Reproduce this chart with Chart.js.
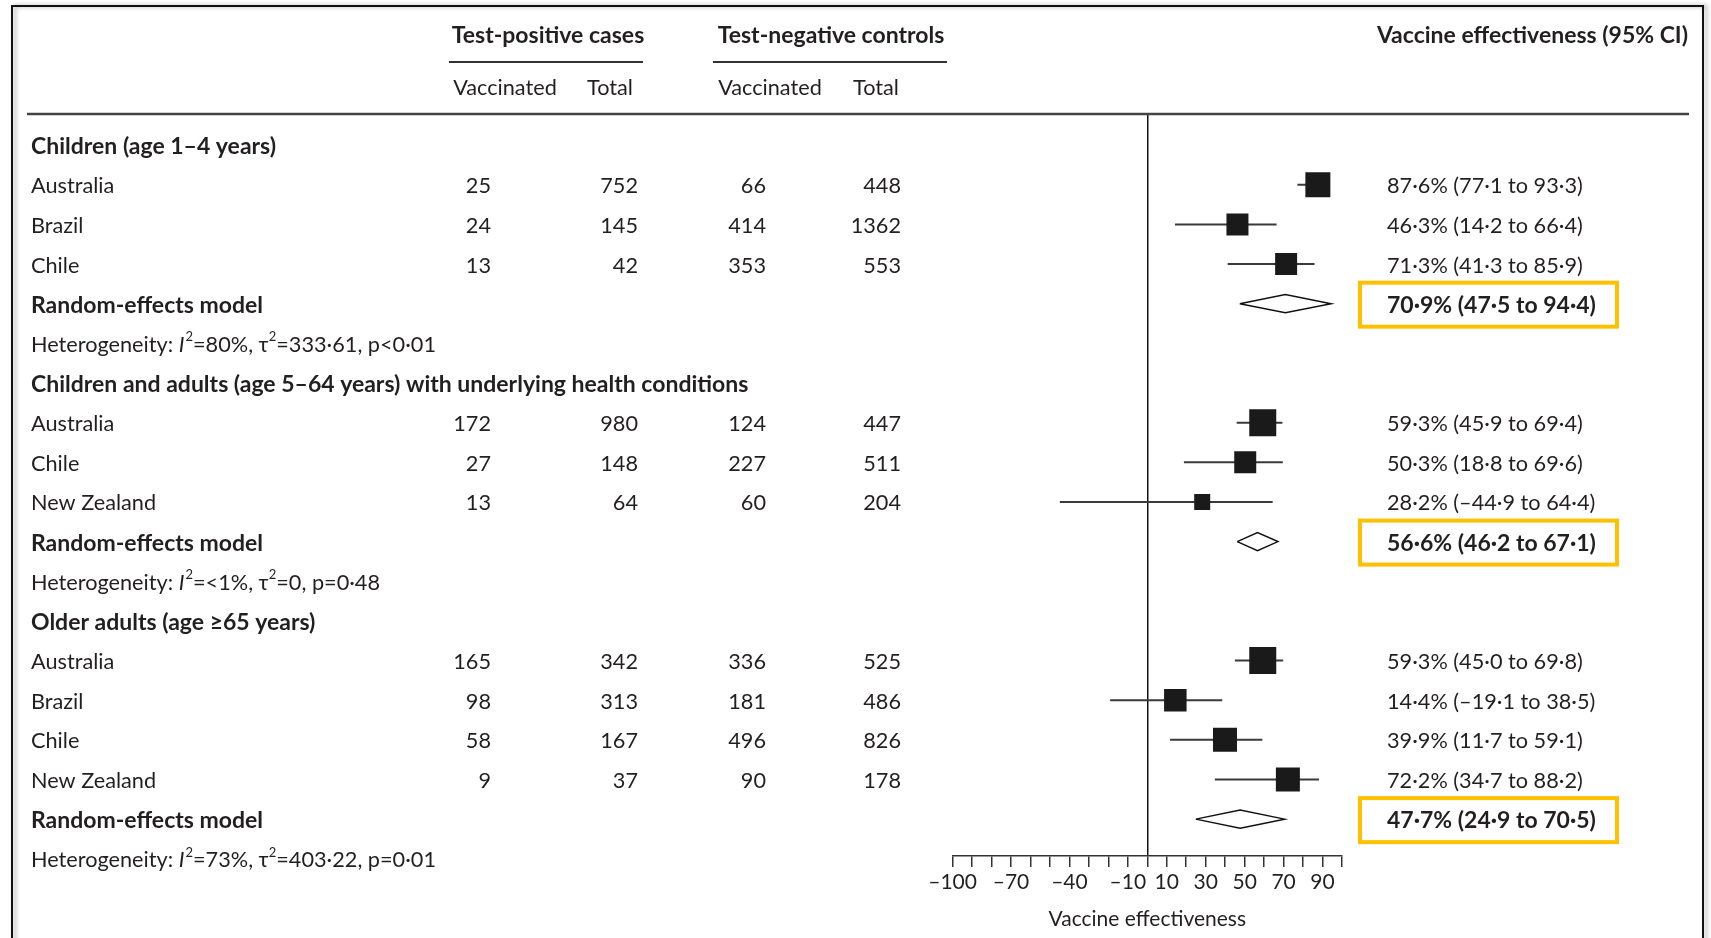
<!DOCTYPE html>
<html>
<head>
<meta charset="utf-8">
<title>Vaccine effectiveness forest plot</title>
<script src="https://cdn.jsdelivr.net/npm/chart.js@4.4.1/dist/chart.umd.min.js"></script>
<style>
  html, body { margin: 0; padding: 0; background: #fff; overflow: hidden; }
  #wrap { position: relative; width: 1711px; height: 938px; }
  canvas { display: block; }
</style>
</head>
<body>
<div id="wrap"><canvas id="forest" width="1711" height="938"></canvas></div>
<script>
// ---------------- data ----------------
const groupTitles = [
  'Children (age 1–4 years)',
  'Children and adults (age 5–64 years) with underlying health conditions',
  'Older adults (age ≥65 years)'
];
const studyGroup = [0, 0, 0, 1, 1, 1, 2, 2, 2, 2];
const studyCountry = ['Australia', 'Brazil', 'Chile', 'Australia', 'Chile', 'New Zealand',
                      'Australia', 'Brazil', 'Chile', 'New Zealand'];
const casesVaccinated    = [25, 24, 13, 172, 27, 13, 165, 98, 58, 9];
const casesTotal         = [752, 145, 42, 980, 148, 64, 342, 313, 167, 37];
const controlsVaccinated = [66, 414, 353, 124, 227, 60, 336, 181, 496, 90];
const controlsTotal      = [448, 1362, 553, 447, 511, 204, 525, 486, 826, 178];
const studyVE   = [87.6, 46.3, 71.3, 59.3, 50.3, 28.2, 59.3, 14.4, 39.9, 72.2];
const studyLow  = [77.1, 14.2, 41.3, 45.9, 18.8, -44.9, 45.0, -19.1, 11.7, 34.7];
const studyHigh = [93.3, 66.4, 85.9, 69.4, 69.6, 64.4, 69.8, 38.5, 59.1, 88.2];
const pooledVE   = [70.9, 56.6, 47.7];
const pooledLow  = [47.5, 46.2, 24.9];
const pooledHigh = [94.4, 67.1, 70.5];
const heteroI2   = ['80%', '<1%', '73%'];
const heteroTau2 = ['333·61', '0', '403·22'];
const heteroP    = ['p<0·01', 'p=0·48', 'p=0·01'];
const axisLabelValues = [-100, -70, -40, -10, 10, 30, 50, 70, 90];

// ---------------- styling ----------------
const FONT_FAMILY = 'Lato, "Open Sans", "DejaVu Sans", sans-serif';
const INK = '#231f20';
const BODY_SIZE = 21.7;
const BOLD_SIZE = 23;
const TEXT_SHIFT = 1.5;                                        // baseline nudge, px
const boxSide = [25, 22, 22, 27, 22, 16, 27, 22.5, 24, 24];   // study weight squares, px
const DIAMOND_HALF = 0.23;                                     // diamond half-height, rows
const COL_NAME_X = 31;
const COL_RIGHT = [491, 638, 766, 901];
const CI_TEXT_X = 1387;
const HILITE = '#FFC000';

// ---------------- row layout ----------------
const rows = [];
groupTitles.forEach((t, g) => {
  rows.push({ kind: 'group', g });
  studyGroup.forEach((sg, i) => { if (sg === g) rows.push({ kind: 'study', i }); });
  rows.push({ kind: 'pooled', g });
  rows.push({ kind: 'het', g });
});
const rowOfStudy = {}, rowOfPooled = {};
rows.forEach((r, idx) => {
  if (r.kind === 'study') rowOfStudy[r.i] = idx;
  if (r.kind === 'pooled') rowOfPooled[r.g] = idx;
});

function fmt(v) {
  return (v < 0 ? '–' : '') + Math.abs(v).toFixed(1).replace('.', '·');
}
function ciText(est, lo, hi) {
  return fmt(est) + '% (' + fmt(lo) + ' to ' + fmt(hi) + ')';
}
function font(size, weight, style) {
  return (style || 'normal') + ' ' + (weight || 'normal') + ' ' + size + 'px ' + FONT_FAMILY;
}

// ---------------- datasets ----------------
const datasets = [];
datasets.push({
  label: 'Study estimate',
  data: studyVE.map((v, i) => ({ x: v, y: rowOfStudy[i] })),
  pointStyle: 'rect',
  pointRadius: boxSide.map(s => s / Math.SQRT2),
  backgroundColor: '#1b1a1a',
  borderColor: '#1b1a1a',
  borderWidth: 0,
  order: 0
});
studyVE.forEach((v, i) => {
  datasets.push({
    label: 'Study 95% CI',
    data: [{ x: studyLow[i], y: rowOfStudy[i] }, { x: studyHigh[i], y: rowOfStudy[i] }],
    showLine: true,
    pointRadius: 0,
    borderColor: '#3a3a3a',
    borderWidth: 2,
    order: 1
  });
});
pooledVE.forEach((v, g) => {
  const r = rowOfPooled[g];
  datasets.push({
    label: 'Random-effects estimate',
    data: [
      { x: pooledLow[g], y: r },
      { x: v, y: r - DIAMOND_HALF },
      { x: pooledHigh[g], y: r },
      { x: v, y: r + DIAMOND_HALF },
      { x: pooledLow[g], y: r }
    ],
    showLine: true,
    pointRadius: 0,
    borderColor: '#111',
    borderWidth: 1.5,
    borderJoinStyle: 'miter',
    fill: false,
    tension: 0,
    order: 0
  });
});

// ---------------- table text, rules and frame ----------------
function drawRich(ctx, x, y, parts, size) {
  let cx = x;
  parts.forEach(p => {
    if (p.sup) {
      ctx.font = font(Math.round(size * 0.62));
      ctx.fillText(p.t, cx, y - size * 0.36);
    } else {
      ctx.font = font(size, 'normal', p.italic ? 'italic' : 'normal');
      ctx.fillText(p.t, cx, y);
    }
    cx += ctx.measureText(p.t).width + (p.italic ? 1 : 0);
  });
}

const tablePlugin = {
  id: 'forestTable',
  beforeDraw(chart) {
    const ctx = chart.ctx;
    ctx.save();
    ctx.fillStyle = '#fff';
    ctx.fillRect(0, 0, chart.width, chart.height);
    ctx.restore();
  },
  afterDraw(chart) {
    const ctx = chart.ctx;
    const ys = chart.scales.y;
    const area = chart.chartArea;
    ctx.save();

    // outer frame
    ctx.save();
    ctx.shadowColor = 'rgba(0,0,0,0.35)';
    ctx.shadowBlur = 4;
    ctx.shadowOffsetX = 3;
    ctx.strokeStyle = '#111';
    ctx.lineWidth = 2;
    ctx.strokeRect(12, 6, 1691, 1000);
    ctx.restore();

    ctx.fillStyle = INK;
    ctx.textBaseline = 'middle';

    // column headers
    ctx.font = font(BOLD_SIZE, 'bold');
    ctx.textAlign = 'center';
    ctx.fillText('Test-positive cases', 548, 36);
    ctx.fillText('Test-negative controls', 831, 36);
    ctx.textAlign = 'right';
    ctx.fillText('Vaccine effectiveness (95% CI)', 1688, 36);
    ctx.font = font(BODY_SIZE);
    ctx.textAlign = 'center';
    ctx.fillText('Vaccinated', 505, 88);
    ctx.fillText('Total', 610, 88);
    ctx.fillText('Vaccinated', 770, 88);
    ctx.fillText('Total', 876, 88);

    // header rules
    ctx.strokeStyle = '#333';
    ctx.lineWidth = 2;
    ctx.beginPath();
    ctx.moveTo(449, 62); ctx.lineTo(643, 62);
    ctx.moveTo(713, 62); ctx.lineTo(947, 62);
    ctx.stroke();
    ctx.strokeStyle = '#444';
    ctx.lineWidth = 2.5;
    ctx.beginPath();
    ctx.moveTo(27, area.top); ctx.lineTo(1689, area.top);
    ctx.stroke();

    // rows
    rows.forEach((r, idx) => {
      const yRow = ys.getPixelForValue(idx);
      const y = yRow + TEXT_SHIFT;
      ctx.textAlign = 'left';
      if (r.kind === 'group') {
        ctx.font = font(BOLD_SIZE, 'bold');
        ctx.fillText(groupTitles[r.g], COL_NAME_X, y);
      } else if (r.kind === 'study') {
        const i = r.i;
        ctx.font = font(BODY_SIZE);
        ctx.fillText(studyCountry[i], COL_NAME_X, y);
        ctx.textAlign = 'right';
        [casesVaccinated[i], casesTotal[i], controlsVaccinated[i], controlsTotal[i]]
          .forEach((v, c) => ctx.fillText(String(v), COL_RIGHT[c], y));
        ctx.textAlign = 'left';
        ctx.fillText(ciText(studyVE[i], studyLow[i], studyHigh[i]), CI_TEXT_X, y);
      } else if (r.kind === 'pooled') {
        ctx.font = font(BOLD_SIZE, 'bold');
        ctx.fillText('Random-effects model', COL_NAME_X, y);
        ctx.fillText(ciText(pooledVE[r.g], pooledLow[r.g], pooledHigh[r.g]), CI_TEXT_X, y);
        ctx.save();
        ctx.strokeStyle = HILITE;
        ctx.lineWidth = 4;
        ctx.strokeRect(1360, yRow - 21, 257, 44);
        ctx.restore();
      } else {
        drawRich(ctx, COL_NAME_X, y, [
          { t: 'Heterogeneity: ' },
          { t: 'I', italic: true },
          { t: '2', sup: true },
          { t: '=' + heteroI2[r.g] + ', τ' },
          { t: '2', sup: true },
          { t: '=' + heteroTau2[r.g] + ', ' + heteroP[r.g] }
        ], BODY_SIZE);
      }
    });
    ctx.restore();
  }
};

// ---------------- chart ----------------
new Chart(document.getElementById('forest'), {
  type: 'scatter',
  data: { datasets },
  options: {
    responsive: false,
    animation: false,
    events: [],
    devicePixelRatio: 1,
    layout: { padding: { left: 952.6, right: 369, top: 114, bottom: 6.4 } },
    plugins: { legend: { display: false }, tooltip: { enabled: false } },
    scales: {
      x: {
        type: 'linear',
        position: 'bottom',
        min: -100,
        max: 100,
        border: { display: true, color: '#333', width: 1.5 },
        grid: {
          drawOnChartArea: true,
          color: c => (c.tick && Math.round(c.tick.value) === 0 ? '#111' : 'rgba(0,0,0,0)'),
          lineWidth: 1.5,
          tickColor: '#333',
          tickLength: 11,
          tickWidth: 1.5
        },
        ticks: {
          stepSize: 10,
          autoSkip: false,
          maxRotation: 0,
          padding: 3,
          color: INK,
          font: { family: FONT_FAMILY, size: 21 },
          callback: v => {
            const n = Math.round(v);
            return axisLabelValues.includes(n) ? (n < 0 ? '–' + Math.abs(n) : String(n)) : '';
          }
        },
        title: {
          display: true,
          text: 'Vaccine effectiveness',
          color: INK,
          font: { family: FONT_FAMILY, size: 21 },
          padding: { top: 8.2, bottom: 0 }
        }
      },
      y: {
        type: 'linear',
        display: false,
        reverse: true,
        min: -0.784,
        max: 17.93
      }
    }
  },
  plugins: [tablePlugin]
});
</script>
</body>
</html>
